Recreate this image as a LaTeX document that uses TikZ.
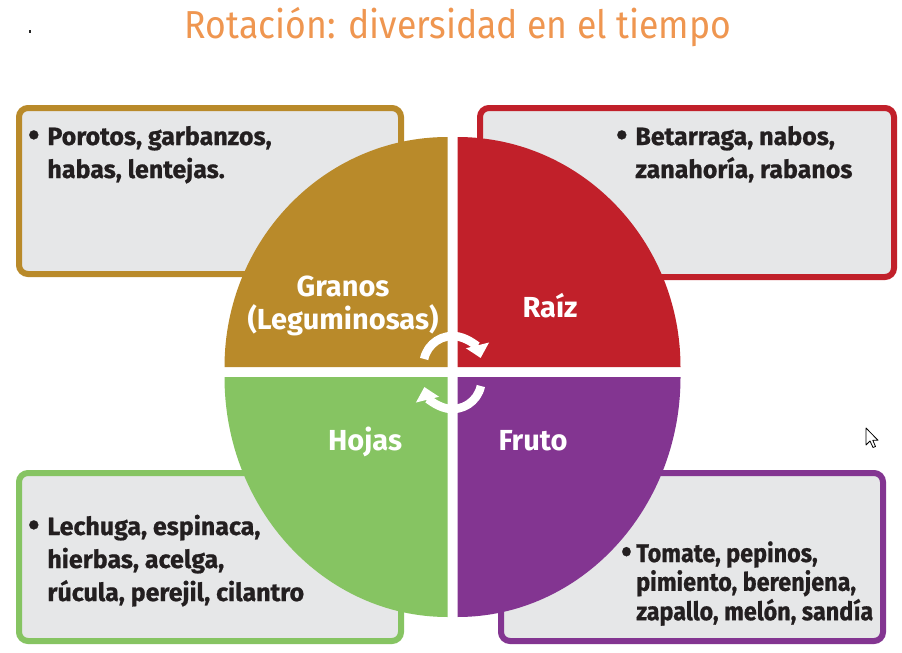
\documentclass[tikz,border=0pt]{standalone}
\usepackage{fontspec}
\usepackage{graphicx}
\setmainfont{Fira Sans}
\newfontfamily\boldfs{Fira Sans Bold}
\newfontfamily\heavyfs[FakeBold=0.8]{Fira Sans Bold}
\usetikzlibrary{arrows.meta}
\definecolor{qgold}{HTML}{B98A2A}
\definecolor{qred}{HTML}{C1202A}
\definecolor{qgreen}{HTML}{86C462}
\definecolor{qpurple}{HTML}{833591}
\definecolor{boxgray}{HTML}{E6E7E8}
\definecolor{ink}{HTML}{231F20}
\definecolor{titleor}{HTML}{EF9650}
\newcommand{\bigbul}{\raisebox{-1pt}{\scalebox{1.3}{•}}}
\begin{document}
\begin{tikzpicture}[x=1pt,y=-1pt,
  panel/.style={rounded corners=9pt, line width=6pt, fill=boxgray},
  lbl/.style={text=white, inner sep=0, anchor=base, font=\boldfs\fontsize{29}{33}\selectfont},
  list/.style={anchor=base west, inner sep=0, text=ink, font=\heavyfs\fontsize{25}{33}\selectfont},
  rotarrow/.style={white, line width=8.5pt, -{Triangle[width=23pt,length=13pt]}}]
\useasboundingbox (0,0) rectangle (902,653);
\fill[white] (0,0) rectangle (902,653);
% title
\node[anchor=base, inner sep=0, text=titleor, font=\fontsize{39}{44}\selectfont] (title) at (458,38)
  {\resizebox{546pt}{\height}{Rotación: diversidad en el tiempo}};
\fill[black!85] (29.4,30) rectangle (30.8,32.6);
% panels
\draw[panel, draw=qgold]   (19,108) rectangle (401,274);
\draw[panel, draw=qred]    (480,108) rectangle (894,277);
\draw[panel, draw=qgreen]  (19,473) rectangle (401,641);
\draw[panel, draw=qpurple] (501,473) rectangle (883,641);
% quadrants
\fill[qgold] (447.5,367) -- ++(-223,0) arc[start angle=180, end angle=270, x radius=223, y radius=230] -- cycle;
\fill[qred] (457.5,367) -- ++(223,0) arc[start angle=0, end angle=-90, x radius=223, y radius=230] -- cycle;
\fill[qgreen] (447.5,377) -- ++(-223,0) arc[start angle=180, end angle=90, x radius=223, y radius=240] -- cycle;
\fill[qpurple] (457.5,377) -- ++(223,0) arc[start angle=0, end angle=90, x radius=223, y radius=240] -- cycle;
% labels
\node[lbl] (granos) at (343,296) {Granos};
\node[lbl] (legum) at (343,329) {(Leguminosas)};
\node[lbl] (raiz) at (550,317) {Raíz};
\node[lbl] (hojas) at (365,450) {Hojas};
\node[lbl] (fruto) at (533,450) {Fruto};
% rotation arrows
\coordinate (ctop) at (452.5,365);
\coordinate (cbot) at (452.5,380);
\draw[rotarrow] (ctop) ++(-168:29) arc[start angle=-168, end angle=-14, radius=29];
\draw[rotarrow] (cbot) ++(12:29) arc[start angle=12, end angle=166, radius=29];
% lists
\node[list] (ltl) at (28,145) {\begin{tabular}[t]{@{}l@{\hspace{8pt}}l@{}}\bigbul&Porotos, garbanzos,\\&habas, lentejas.\end{tabular}};
\node[list] (ltr) at (616,145) {\begin{tabular}[t]{@{}l@{\hspace{8pt}}l@{}}\bigbul&Betarraga, nabos,\\&zanahoría, rabanos\end{tabular}};
\node[list] (lbl) at (28,535) {\begin{tabular}[t]{@{}l@{\hspace{8pt}}l@{}}\bigbul&Lechuga, espinaca,\\&hierbas, acelga,\\&rúcula, perejil, cilantro\end{tabular}};
\node[list, font=\heavyfs\fontsize{25.5}{27}\selectfont] (lbr) at (621,562) {\resizebox{252pt}{\height}{\begin{tabular}[t]{@{}l@{\hspace{5pt}}l@{}}\bigbul&Tomate, pepinos,\\&pimiento, berenjena,\\&zapallo, melón, sandía\end{tabular}}};
% cursor
\draw[fill=white, line width=0.8pt, line join=round] (866,428) -- ++(0,17) -- ++(4,-4) -- ++(3,6.5) -- ++(2.5,-1) -- ++(-2.7,-6.2) -- ++(5.2,0) -- cycle;
\end{tikzpicture}
\end{document}
